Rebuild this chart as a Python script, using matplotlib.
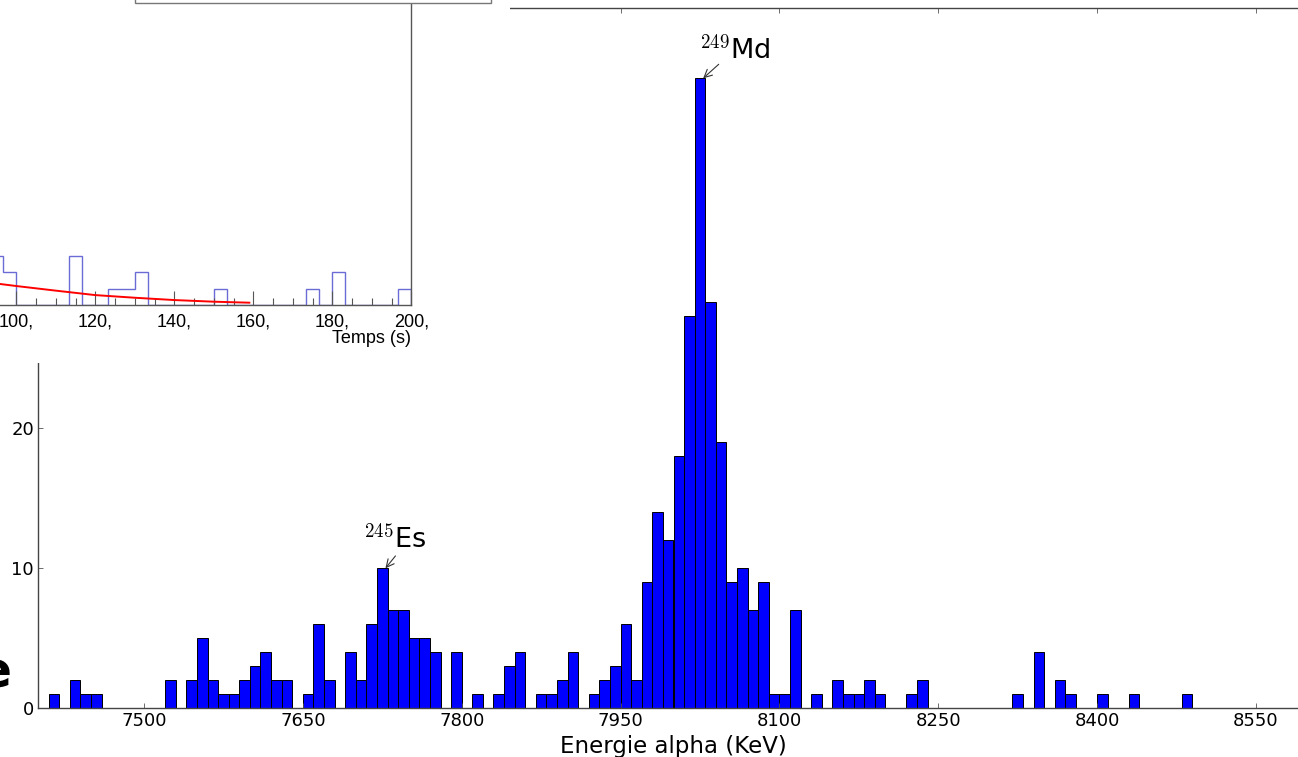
import numpy as np
import matplotlib.pyplot as plt
from matplotlib.patches import Rectangle
from matplotlib.ticker import MultipleLocator, FuncFormatter

plt.rcParams['mathtext.fontset'] = 'cm'

# alpha energy spectrum, 10 keV bins from 7400 keV
e_min, e_step = 7400, 10
counts = [0, 1, 0, 2, 1, 1, 0, 0, 0, 0,
          0, 0, 2, 0, 2, 5, 2, 1, 1, 2,
          3, 4, 2, 2, 0, 1, 6, 2, 0, 4,
          2, 6, 10, 7, 7, 5, 5, 4, 0, 4,
          0, 1, 0, 1, 3, 4, 0, 1, 1, 2,
          4, 0, 1, 2, 3, 6, 2, 9, 14, 12,
          18, 28, 45, 29, 19, 9, 10, 7, 9, 1,
          1, 7, 0, 1, 0, 2, 1, 1, 2, 1,
          0, 0, 1, 2, 0, 0, 0, 0, 0, 0,
          0, 0, 1, 0, 4, 0, 2, 1, 0, 0,
          1, 0, 0, 1, 0, 0, 0, 0, 1, 0,
          0, 0, 0, 0, 0, 0, 0, 0, 0, 0]
peaks = [(r'$^{245}$Es', 7720, (7.2, 8.9), (-16, 15)),
         (r'$^{249}$Md', 8020, (11.2, 10.1), (-3, 14.5))]

# decay time spectrum (inset), bins of 10/3 s
t_edges = np.arange(28, 61) * 10 / 3
t_counts = [3, 2, 0, 0, 0, 0, 3, 0, 0, 1, 1, 2, 0, 0, 0, 0,
            0, 1, 0, 0, 0, 0, 0, 0, 1, 0, 2, 0, 0, 0, 0, 1]
t_ticks = [100, 120, 140, 160, 180, 200]
# exponential fit, read at a few times
fit_t = [90, 96, 100, 110, 120, 130, 140, 150, 159]
fit_y = [1.6, 1.27, 1.15, 0.87, 0.6, 0.44, 0.30, 0.2, 0.14]

counts = np.array(counts)
edges = e_min + e_step * np.arange(len(counts) + 1)

W, H = 1298, 757
fig = plt.figure(figsize=(W / 100, H / 100), dpi=100)

ax = fig.add_axes([38.1 / W, 48.7 / H, 1270.8 / W, 700 / H])
nz = counts > 0
ax.bar(edges[:-1][nz], counts[nz], width=e_step, align='edge',
       color='#0000ff', edgecolor='black', linewidth=0.7)
ax.set_xlim(7400, 8600)
ax.set_ylim(0, 50)
ax.set_xticks(np.arange(7500, 8600, 150))
ax.set_yticks(np.arange(0, 51, 10))
ax.tick_params(direction='in', length=3.5, width=0.6, color='#555555',
               labelsize=13, pad=3, top=True, right=True)
for s in ax.spines.values():
    s.set_color('#444444')
    s.set_linewidth(1.0)
ax.set_xlabel('Energie alpha (KeV)', fontsize=16.5, labelpad=3)

for label, left, arr_off, txt_off in peaks:
    n = counts[(left - e_min) // e_step]
    head = (left + 8, n)
    ax.annotate('', xy=head, xytext=arr_off, textcoords='offset points',
                arrowprops=dict(arrowstyle='->', color='#333333', lw=0.8,
                                shrinkA=0, shrinkB=0, mutation_scale=14))
    ax.annotate(label, xy=head, xytext=txt_off, textcoords='offset points',
                fontsize=19.5, ha='left', va='baseline')

# white canvas behind the inset
fig.add_artist(Rectangle((-0.1, 394 / H), 0.1 + 510 / W, 1, facecolor='white',
                         edgecolor='none', transform=fig.transFigure, zorder=1))

ins = fig.add_axes([-378.7 / W, 452 / H, 790 / W, 495 / H], zorder=2)
ins.stairs(t_counts, t_edges, color='#6b6bd6', linewidth=1.0)
ins.plot(fit_t, fit_y, color='red', linewidth=1.4)
ins.set_xlim(0, 200)
ins.set_ylim(0, 30)
ins.set_xticks(t_ticks)
ins.xaxis.set_minor_locator(MultipleLocator(5))
ins.xaxis.set_major_formatter(FuncFormatter(lambda v, p: f'{v:.0f},'))
ins.set_yticks([])
ins.tick_params(axis='x', which='major', direction='in', length=10, width=0.8,
                color='#555555', pad=6, labelsize=13,
                labelfontfamily='Liberation Sans')
ins.tick_params(axis='x', which='minor', direction='in', length=5, width=0.8,
                color='#555555')
for s in ins.spines.values():
    s.set_color('#555555')
    s.set_linewidth(1.0)
ins.spines['top'].set_visible(False)
ins.set_xlabel('Temps (s)', loc='right', fontsize=13, family='Liberation Sans',
               labelpad=0)

# fit legend box at the top of the inset
fig.add_artist(Rectangle((135 / W, 754 / H), 356 / W, 0.1, facecolor='white',
                         edgecolor='#777777', linewidth=1.0,
                         transform=fig.transFigure, zorder=3))

# part of a large letter at the left edge
fig.text(12 / W, 70 / H, 'e', fontsize=35, fontweight='bold', ha='right',
         va='baseline')

fig.savefig('out.png', dpi=100)
plt.close('all')
